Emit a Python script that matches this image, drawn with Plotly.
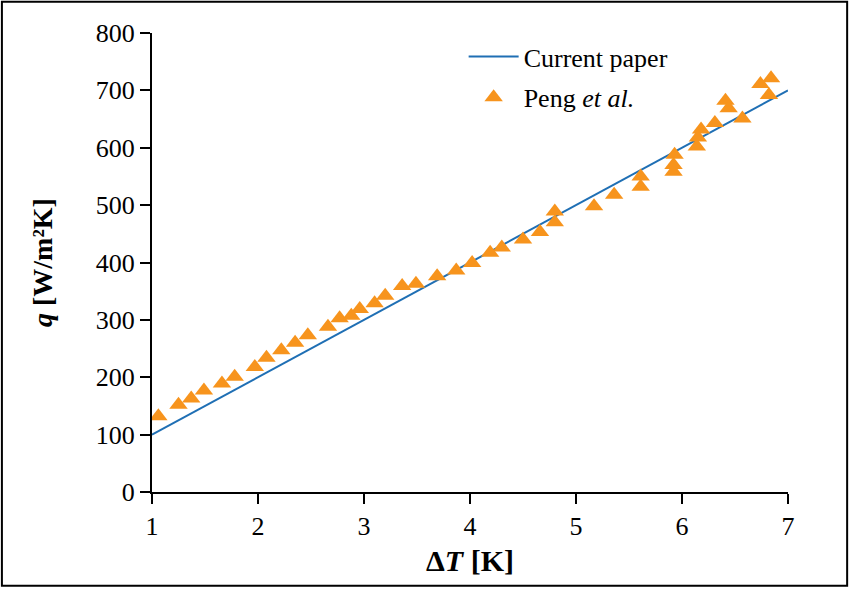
import plotly.graph_objects as go

# Current paper model line
model_dt = [1, 2, 3, 4, 5, 6, 7]
model_q = [100, 200, 300, 400, 500, 600, 700]

# Peng et al. experimental points
peng_dt = [1.06, 1.25, 1.37, 1.49, 1.66, 1.78, 1.97, 2.08, 2.22, 2.35, 2.47,
           2.66, 2.77, 2.88, 2.96, 3.10, 3.20, 3.36, 3.49, 3.69, 3.87, 4.02,
           4.19, 4.30, 4.50, 4.66, 4.80, 4.80, 5.17, 5.36, 5.61, 5.61, 5.93,
           5.92, 5.92, 6.18, 6.15, 6.14, 6.31, 6.41, 6.44, 6.57, 6.74, 6.84, 6.82]
peng_q = [132, 152, 163, 177, 189, 201, 218, 234, 247, 260, 273,
          288, 303, 307, 319, 329, 342, 359, 363, 376, 386, 399,
          417, 426, 440, 453, 489, 470, 498, 518, 550, 532, 588,
          570, 558, 632, 618, 602, 643, 682, 669, 651, 711, 721, 692]

x_ticks = [1, 2, 3, 4, 5, 6, 7]
y_ticks = [0, 100, 200, 300, 400, 500, 600, 700, 800]

blue = "#1f6fb4"
orange = "#f7941d"
serif = "Liberation Serif"

fig = go.Figure()

fig.add_trace(go.Scatter(
    x=model_dt, y=model_q,
    mode="lines",
    line=dict(color=blue, width=2),
    name="Current paper",
    legendgroup="a",
))

fig.add_trace(go.Scatter(
    x=peng_dt, y=peng_q,
    mode="markers",
    marker=dict(symbol="triangle-up", size=16, color=orange,
                line=dict(width=0)),
    name="Peng <i>et al.</i>",
    legendgroup="b",
))

axis_common = dict(
    showgrid=False, zeroline=False,
    showline=True, linecolor="black", linewidth=2,
    ticks="outside", ticklen=10, tickwidth=2, tickcolor="black",
    tickfont=dict(family=serif, size=26, color="black"),
)

fig.update_xaxes(
    range=[1, 7], tickvals=x_ticks,
    title=dict(text="<b>Δ<i>T</i> [K]</b>",
               font=dict(family=serif, size=30, color="black"), standoff=10),
    **axis_common,
)
fig.update_yaxes(
    range=[0, 800], tickvals=y_ticks,
    title=dict(text="<b><i>q</i> [W/m²K]</b>",
               font=dict(family=serif, size=28, color="black"), standoff=35),
    **axis_common,
)

# thin frame round the whole picture
fig.add_shape(type="rect", xref="paper", yref="paper",
              x0=-0.236, x1=1.093, y0=-0.204, y1=1.068,
              line=dict(color="black", width=2), fillcolor="rgba(0,0,0,0)")

fig.update_layout(
    width=850, height=589,
    margin=dict(l=152, r=62, t=33, b=97),
    paper_bgcolor="white", plot_bgcolor="white",
    font=dict(family=serif, color="black"),
    showlegend=True,
    legend=dict(
        x=0.49, y=1.0, xanchor="left", yanchor="top",
        font=dict(family=serif, size=26, color="black"),
        bgcolor="rgba(0,0,0,0)",
        itemwidth=50,
        traceorder="grouped", tracegroupgap=4,
    ),
)

# drop the page's default body margin so the figure sits at the window corner
fig.write_html("out.html", config={"displayModeBar": False},
               post_script="document.body.style.margin='0';")
